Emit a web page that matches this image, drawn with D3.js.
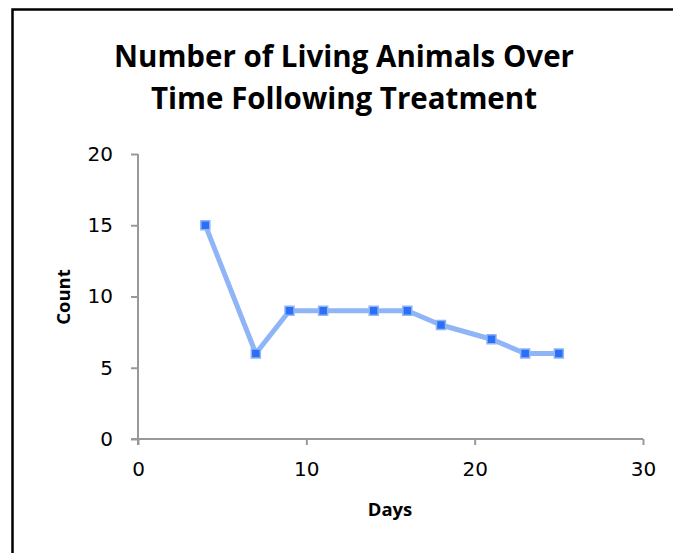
<!DOCTYPE html>
<html>
<head>
<meta charset="utf-8">
<script src="https://cdn.jsdelivr.net/npm/d3@7"></script>
<style>
  html, body { margin: 0; padding: 0; background: #fff; overflow: hidden; }
  svg { display: block; }
</style>
</head>
<body>
<svg id="chart" width="673" height="553"></svg>
<script>
const titleLines = ["Number of Living Animals Over", "Time Following Treatment"];
const xLabel = "Days";
const yLabel = "Count";
const days = [4, 7, 9, 11, 14, 16, 18, 21, 23, 25];
const counts = [15, 6, 9, 9, 9, 9, 8, 7, 6, 6];
const xTicks = [0, 10, 20, 30];
const yTicks = [0, 5, 10, 15, 20];

const svg = d3.select("#chart");

// outer frame: only top and left edges are visible in the window
svg.append("path")
  .attr("d", "M12.5,553V9.5H673")
  .attr("fill", "none").attr("stroke", "#000").attr("stroke-width", 2.5);

const x = d3.scaleLinear().domain([0, 30]).range([138, 643]);
const y = d3.scaleLinear().domain([0, 20]).range([439, 154]);

const title = svg.append("text")
  .attr("text-anchor", "middle")
  .attr("font-family", "'Open Sans', sans-serif")
  .attr("font-weight", "bold")
  .attr("font-size", 29.5)
  .attr("fill", "#000");
titleLines.forEach((t, i) => {
  title.append("tspan").attr("x", 344).attr("y", 67 + i * 42).text(t);
});

const axisColor = "#999";
const tickFont = "'DejaVu Sans', sans-serif";

const gx = svg.append("g").attr("transform", `translate(0,${y(0)})`)
  .call(d3.axisBottom(x).tickValues(xTicks).tickSize(6).tickSizeOuter(0).tickPadding(17));
const gy = svg.append("g").attr("transform", `translate(${x(0)},0)`)
  .call(d3.axisLeft(y).tickValues(yTicks).tickSize(7).tickSizeOuter(0).tickPadding(18));

[gx, gy].forEach(g => {
  g.select(".domain").attr("stroke", axisColor).attr("stroke-width", 2);
  g.selectAll(".tick line").attr("stroke", axisColor).attr("stroke-width", 2);
  g.selectAll(".tick text").attr("fill", "#000")
    .attr("font-family", tickFont).attr("font-size", 20);
});
gx.select(".domain").attr("d", `M${x(0) - 7},0H${x(30)}`);
gy.select(".domain").attr("d", `M0,${y(20)}V${y(0) + 6}`);

svg.append("text")
  .attr("x", 390).attr("y", 516)
  .attr("text-anchor", "middle")
  .attr("font-family", "'Open Sans', sans-serif")
  .attr("font-weight", "bold").attr("font-size", 18.5)
  .text(xLabel);

svg.append("text")
  .attr("transform", `translate(70,297) rotate(-90)`)
  .attr("text-anchor", "middle")
  .attr("font-family", "'Open Sans', sans-serif")
  .attr("font-weight", "bold").attr("font-size", 18.5)
  .text(yLabel);

const data = days.map((d, i) => ({ d, c: counts[i] }));

svg.append("path")
  .datum(data)
  .attr("fill", "none")
  .attr("stroke", "#8fb5f7")
  .attr("stroke-width", 5)
  .attr("stroke-linejoin", "round")
  .attr("d", d3.line().x(p => x(p.d)).y(p => y(p.c)));

const ms = 9;
svg.selectAll("rect.pt")
  .data(data)
  .enter().append("rect")
  .attr("class", "pt")
  .attr("x", p => x(p.d) - ms / 2)
  .attr("y", p => y(p.c) - ms / 2)
  .attr("width", ms).attr("height", ms)
  .attr("fill", "#2b6ff6")
  .attr("stroke", "#8fb5f7")
  .attr("stroke-width", 1.5);
</script>
</body>
</html>
